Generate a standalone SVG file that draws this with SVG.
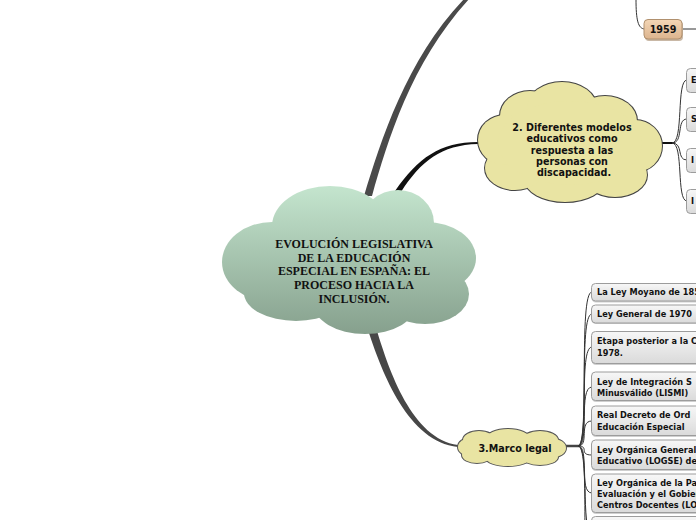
<svg xmlns="http://www.w3.org/2000/svg" width="696" height="520" viewBox="0 0 696 520">
<defs>
<linearGradient id="gc" x1="0" y1="186" x2="0" y2="334" gradientUnits="userSpaceOnUse"><stop offset="0" stop-color="#c4e5ce"/><stop offset="1" stop-color="#86a08d"/></linearGradient>
<linearGradient id="gb" x1="0" y1="0" x2="0" y2="1"><stop offset="0" stop-color="#f7f7f7"/><stop offset="1" stop-color="#dadada"/></linearGradient>
<linearGradient id="gt" x1="0" y1="0" x2="0" y2="1"><stop offset="0" stop-color="#f3d6b6"/><stop offset="1" stop-color="#dcb48e"/></linearGradient>
<g id="s2">
<ellipse cx="530" cy="116" rx="30" ry="25"/>
<ellipse cx="562" cy="108" rx="35" ry="26"/>
<ellipse cx="605" cy="121" rx="32" ry="25"/>
<ellipse cx="635" cy="146" rx="27" ry="26"/>
<ellipse cx="615" cy="175" rx="32" ry="22"/>
<ellipse cx="565" cy="180" rx="40" ry="22"/>
<ellipse cx="515" cy="168" rx="30" ry="22"/>
<ellipse cx="505" cy="140" rx="27" ry="25"/>
<ellipse cx="570" cy="143" rx="72" ry="42"/>
</g>
<g id="s3">
<ellipse cx="479" cy="440" rx="16" ry="9"/>
<ellipse cx="508" cy="439" rx="22" ry="10"/>
<ellipse cx="540" cy="440" rx="18" ry="9"/>
<ellipse cx="552" cy="448" rx="14" ry="9.5"/>
<ellipse cx="540" cy="457" rx="18" ry="8"/>
<ellipse cx="508" cy="458" rx="22" ry="8"/>
<ellipse cx="477" cy="455" rx="15" ry="8"/>
<ellipse cx="470" cy="447" rx="12" ry="9"/>
<ellipse cx="512" cy="447" rx="48" ry="13"/>
</g>
</defs>
<style>
.box{fill:url(#gb);stroke:#9c9c9c;stroke-width:1}
.sh{fill:#cfcfcf}
.bt{font-family:"DejaVu Sans",Verdana,sans-serif;font-weight:bold;font-size:8.2px;fill:#111}
.ct{font-family:"Liberation Serif","Times New Roman",serif;font-weight:bold;font-size:12px;fill:#111;text-anchor:middle}
.nt{font-family:"DejaVu Sans",Verdana,sans-serif;font-weight:bold;font-size:9.6px;fill:#111;text-anchor:middle}
.br{fill:none;stroke:#333;stroke-width:1}
</style>
<rect width="696" height="520" fill="#ffffff"/>

<g id="connectors">
<path d="M364,196 C381,140 407,58 465,-2 L470,-2 C411,62 388,140 372,196 Z" fill="#4a4a4a"/>
<path d="M395,191 C418,158 440,142 478,142 L478,144 C441,145 421,161 401,192 Z" fill="#111"/>
<path d="M369,333 C382,372 408,442 458,447 L458,445 C412,439 389,370 377,331 Z" fill="#474747"/>
<path d="M662,143 L673,143" stroke="#111" stroke-width="2" fill="none"/>
<path class="br" d="M672,143 C684,143 676,80 687,80"/>
<path class="br" d="M672,143 C684,143 676,119 687,119"/>
<path class="br" d="M672,143 C684,143 676,160 687,160"/>
<path class="br" d="M672,143 C684,143 676,201 687,201"/>
<path d="M566,446 L579,446" stroke="#444" stroke-width="2.5" fill="none"/>
<path class="br" d="M578,446 C590,446 578,292 592,292"/>
<path class="br" d="M578,446 C590,446 578,314 592,314"/>
<path class="br" d="M578,446 C590,446 578,347 592,347"/>
<path class="br" d="M578,446 C590,446 578,387 592,387"/>
<path class="br" d="M578,446 C590,446 578,421 592,421"/>
<path class="br" d="M578,446 C590,446 578,455 592,455"/>
<path class="br" d="M578,446 C590,446 578,493 592,493"/>
<path class="br" d="M578,446 C590,446 580,530 592,535"/>
<path class="br" d="M578,446 C590,446 581,560 588,580"/>
<path class="br" d="M636,-1 C636,20 638,29 645,29"/>
<path class="br" d="M682,29 L697,29"/>
</g>

<g id="central">
<g fill="url(#gc)">
<ellipse cx="330" cy="226" rx="58" ry="40"/>
<ellipse cx="398" cy="223" rx="36" ry="33"/>
<ellipse cx="272" cy="262" rx="50" ry="40"/>
<ellipse cx="426" cy="258" rx="50" ry="36"/>
<ellipse cx="296" cy="293" rx="52" ry="28"/>
<ellipse cx="365" cy="303" rx="52" ry="31"/>
<ellipse cx="425" cy="294" rx="44" ry="30"/>
<ellipse cx="350" cy="262" rx="100" ry="50"/>
</g>
<text class="ct" x="354" y="248">EVOLUCIÓN LEGISLATIVA</text>
<text class="ct" x="354" y="262">DE LA EDUCACIÓN</text>
<text class="ct" x="354" y="275">ESPECIAL EN ESPAÑA: EL</text>
<text class="ct" x="354" y="289">PROCESO HACIA LA</text>
<text class="ct" x="354" y="303">INCLUSIÓN.</text>
</g>

<g id="n2">
<use href="#s2" fill="#e9e4a3" stroke="#444" stroke-width="2"/>
<use href="#s2" fill="#e9e4a3"/>
<text class="nt" x="572" y="131">2. Diferentes modelos</text>
<text class="nt" x="572" y="142">educativos como</text>
<text class="nt" x="572" y="153.5">respuesta a las</text>
<text class="nt" x="572" y="164.5">personas con</text>
<text class="nt" x="574" y="176">discapacidad.</text>
</g>

<g id="n3">
<use href="#s3" fill="#e9e4a3" stroke="#555" stroke-width="2"/>
<use href="#s3" fill="#e9e4a3"/>
<text class="nt" x="515" y="451.5">3.Marco legal</text>
</g>

<g id="b1959">
<rect x="645" y="21" width="38" height="20" rx="4" fill="#c9b8a6"/>
<rect x="644" y="19.5" width="38" height="19.5" rx="4" fill="url(#gt)" stroke="#b0906e"/>
<text class="nt" x="663" y="33">1959</text>
</g>

<g id="m-e"><rect x="686.5" y="68.5" width="40" height="24" rx="4" class="box"/><text class="bt" x="691" y="83">E</text></g>
<g id="m-s"><rect x="686.5" y="107.5" width="40" height="24" rx="4" class="box"/><text class="bt" x="691" y="122">S</text></g>
<g id="m-i1"><rect x="686.5" y="148.5" width="40" height="24" rx="4" class="box"/><text class="bt" x="691" y="163">I</text></g>
<g id="m-i2"><rect x="686.5" y="189.5" width="40" height="24" rx="4" class="box"/><text class="bt" x="691" y="204">I</text></g>

<g id="l1"><rect x="592" y="284.5" width="140" height="18" rx="4" class="sh"/><rect x="591.5" y="283.5" width="140" height="17.5" rx="4" class="box"/><text class="bt" x="597" y="295">La Ley Moyano de 185</text></g>
<g id="l2"><rect x="592" y="306" width="140" height="18" rx="4" class="sh"/><rect x="591.5" y="305" width="140" height="18" rx="4" class="box"/><text class="bt" x="597" y="317">Ley General de 1970</text></g>
<g id="l3"><rect x="592" y="333" width="140" height="32" rx="4" class="sh"/><rect x="591.5" y="331.5" width="140" height="32" rx="4" class="box"/><text class="bt" x="597" y="344">Etapa posterior a la C</text><text class="bt" x="597" y="356">1978.</text></g>
<g id="l4"><rect x="592" y="373" width="140" height="29" rx="4" class="sh"/><rect x="591.5" y="372" width="140" height="28.5" rx="4" class="box"/><text class="bt" x="597" y="385">Ley de Integración S</text><text class="bt" x="597" y="396">Minusválido (LISMI)</text></g>
<g id="l5"><rect x="592" y="407" width="140" height="30" rx="4" class="sh"/><rect x="591.5" y="406" width="140" height="29.5" rx="4" class="box"/><text class="bt" x="597" y="418">Real Decreto de Ord</text><text class="bt" x="597" y="430">Educación Especial</text></g>
<g id="l6"><rect x="592" y="441" width="140" height="30" rx="4" class="sh"/><rect x="591.5" y="440" width="140" height="29.5" rx="4" class="box"/><text class="bt" x="597" y="453">Ley Orgánica General</text><text class="bt" x="597" y="464">Educativo (LOGSE) de</text></g>
<g id="l7"><rect x="592" y="475" width="140" height="39" rx="4" class="sh"/><rect x="591.5" y="474" width="140" height="38.5" rx="4" class="box"/><text class="bt" x="597" y="486">Ley Orgánica de la Par</text><text class="bt" x="597" y="497">Evaluación y el Gobier</text><text class="bt" x="597" y="508">Centros Docentes (LO</text></g>
<g id="l8"><rect x="591.5" y="516.5" width="140" height="30" rx="4" class="box"/></g>
</svg>
